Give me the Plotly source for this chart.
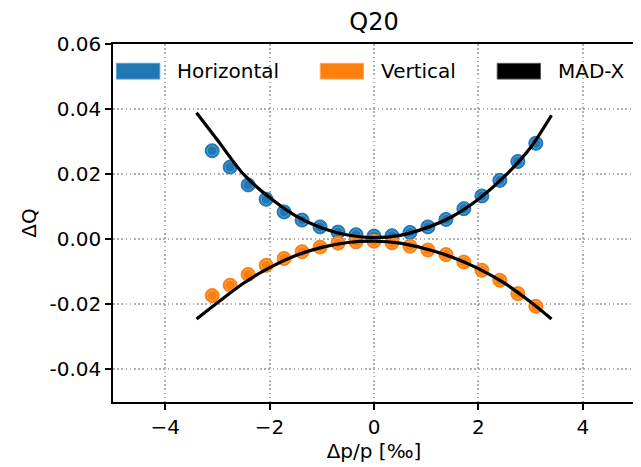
import plotly.graph_objects as go

# ---- data ----
dp = [-3.1, -2.756, -2.411, -2.067, -1.722, -1.378, -1.033, -0.689, -0.344, 0.0,
      0.344, 0.689, 1.033, 1.378, 1.722, 2.067, 2.411, 2.756, 3.1]
dq_h = [0.0272, 0.0222, 0.0167, 0.0123, 0.0084, 0.0059, 0.0038, 0.0022, 0.0014, 0.0010,
        0.0011, 0.0021, 0.0038, 0.0061, 0.0094, 0.0133, 0.0181, 0.0239, 0.0295]
dq_v = [-0.0173, -0.0141, -0.0108, -0.0080, -0.0059, -0.0038, -0.0024, -0.0012, -0.0008, -0.0006,
        -0.0011, -0.0021, -0.0033, -0.0047, -0.0070, -0.0095, -0.0126, -0.0167, -0.0206]

madx_dp = [-3.4, -3.0, -2.5, -2.0, -1.5, -1.0, -0.5, 0.0, 0.5, 1.0, 1.5, 2.0, 2.5, 3.0, 3.4]
madx_h = [0.0389, 0.0305, 0.0200, 0.0128, 0.0072, 0.0035, 0.0013, 0.0005,
          0.0012, 0.0035, 0.0070, 0.0123, 0.0193, 0.0282, 0.0381]
madx_v = [-0.0245, -0.0195, -0.0135, -0.0087, -0.0050, -0.0025, -0.0010, -0.0006,
          -0.0012, -0.0030, -0.0055, -0.0090, -0.0135, -0.0193, -0.0245]

y_ticks = [-0.04, -0.02, 0.00, 0.02, 0.04, 0.06]
y_ticktext = ["-0.04", "-0.02", "0.00", "0.02", "0.04", "0.06"]
x_ticks = [-4, -2, 0, 2, 4]
x_ticktext = ["\u22124", "\u22122", "0", "2", "4"]

BLUE = "#1f77b4"
ORANGE = "#ff7f0e"
FONT = "DejaVu Sans"

fig = go.Figure()

for yv, col, ring in [(dq_h, BLUE, "#6fa8d6"), (dq_v, ORANGE, "#ffb070")]:
    fig.add_trace(go.Scatter(x=dp, y=yv, mode="markers", showlegend=False,
                             marker=dict(size=14, color=col, line=dict(color=col, width=1))))
    fig.add_trace(go.Scatter(x=dp, y=yv, mode="markers", showlegend=False, hoverinfo="skip",
                             marker=dict(size=10, symbol="circle-open", color=ring,
                                         line=dict(color=ring, width=0.8))))

for yv in [madx_h, madx_v]:
    fig.add_trace(go.Scatter(x=madx_dp, y=yv, mode="lines", showlegend=False,
                             line=dict(color="black", width=3.2, shape="spline", smoothing=0.8)))

# legend drawn as patches + text (matplotlib style, spanning the axes)
legend_items = [("Horizontal", BLUE, "#5c9ccc"), ("Vertical", ORANGE, "#ffa95c"), ("MAD-X", "black", "#555555")]
legend_x = [0.0067, 0.397, 0.736]
for (name, col, edge), lx in zip(legend_items, legend_x):
    fig.add_shape(type="rect", xref="paper", yref="paper",
                  x0=lx, x1=lx + 0.083, y0=0.902, y1=0.946,
                  fillcolor=col, line=dict(color=edge, width=1))
    fig.add_annotation(xref="paper", yref="paper", x=lx + 0.113, y=0.925,
                       text=name, showarrow=False, xanchor="left", yanchor="middle",
                       font=dict(family=FONT, size=20, color="black"))

axis_common = dict(showline=True, linecolor="black", linewidth=1.5, mirror=True,
                   ticks="outside", ticklen=6, tickcolor="black", tickwidth=1.5,
                   showgrid=True, gridcolor="#b0b0b0", griddash="1.6px,2.6px", gridwidth=1.6,
                   zeroline=False, automargin=False,
                   tickfont=dict(family=FONT, size=20, color="black"))

fig.update_layout(
    width=641, height=467,
    margin=dict(l=105, r=14, t=36, b=73),
    plot_bgcolor="white", paper_bgcolor="white",
    title=dict(text="Q20", xref="paper", x=0.5, xanchor="center", y=0.970, yanchor="middle",
               font=dict(family=FONT, size=24, color="black")),
    xaxis=dict(range=[-5, 5], tickmode="array", tickvals=x_ticks, ticktext=x_ticktext,
               title=dict(text="\u0394p/p [\u2030]", font=dict(family=FONT, size=20, color="black"), standoff=6),
               **axis_common),
    yaxis=dict(range=[-0.05, 0.06], tickmode="array", tickvals=y_ticks, ticktext=y_ticktext,
               title=dict(text="\u0394Q", font=dict(family=FONT, size=20, color="black"), standoff=8),
               **axis_common),
    font=dict(family=FONT),
)

fig.write_html("out.html")
